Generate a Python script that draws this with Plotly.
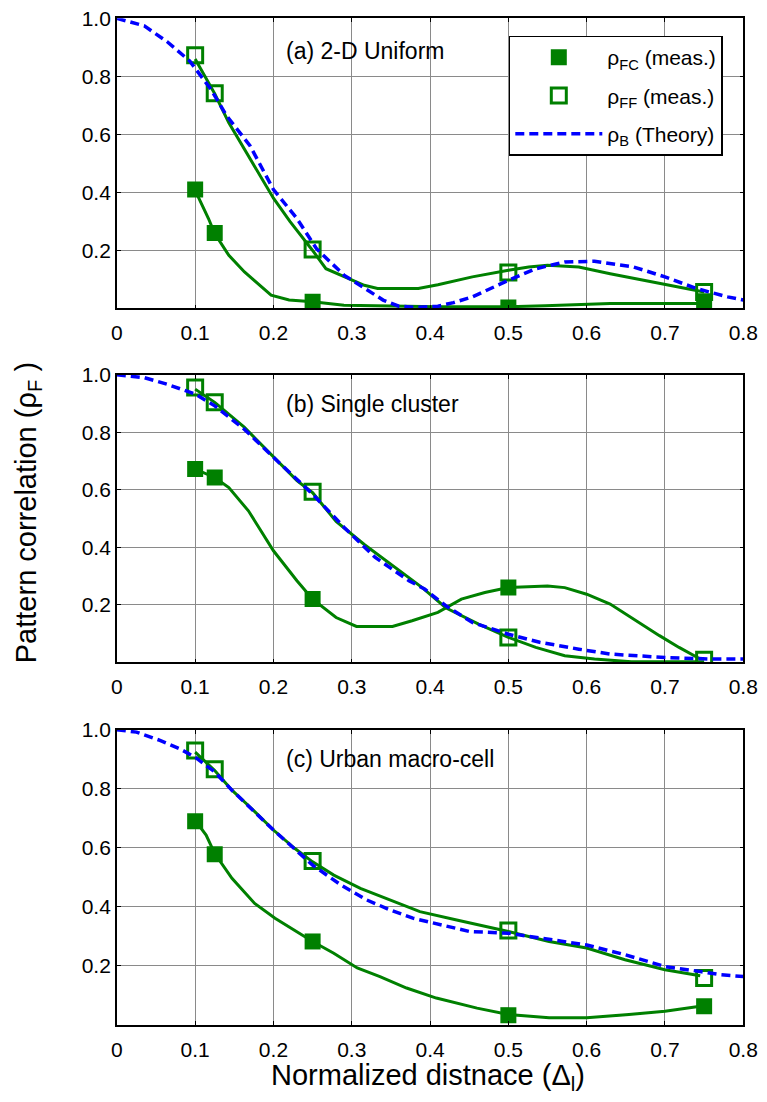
import plotly.graph_objects as go

# ---------------- data ----------------
mx = [0.1, 0.125, 0.25, 0.5, 0.75]

# Panel (a) 2-D Uniform
a_ff_x = [0.1, 0.125, 0.143, 0.163, 0.18, 0.2, 0.221, 0.25, 0.267, 0.3, 0.316, 0.333, 0.36,
          0.385, 0.41, 0.43, 0.454, 0.5, 0.526, 0.55, 0.59, 0.63, 0.675, 0.716, 0.75]
a_ff_y = [0.86, 0.74, 0.64, 0.55, 0.47, 0.38, 0.30, 0.20, 0.137, 0.097, 0.08, 0.069, 0.069,
          0.069, 0.082, 0.095, 0.109, 0.132, 0.143, 0.149, 0.143, 0.12, 0.097, 0.074, 0.057]
a_th_x = [0, 0.035, 0.064, 0.093, 0.12, 0.14, 0.17, 0.2, 0.23, 0.255, 0.29, 0.316, 0.34, 0.36,
          0.38, 0.41, 0.43, 0.454, 0.5, 0.535, 0.572, 0.61, 0.66, 0.7, 0.74, 0.78, 0.8]
a_th_y = [1.0, 0.974, 0.92, 0.853, 0.756, 0.665, 0.561, 0.41, 0.31, 0.206, 0.115, 0.069, 0.029,
          0.008, 0.004, 0.008, 0.02, 0.04, 0.097, 0.137, 0.16, 0.163, 0.143, 0.109, 0.069, 0.04, 0.029]
a_fc_x = [0.1, 0.117, 0.125, 0.143, 0.163, 0.197, 0.22, 0.25, 0.29, 0.35, 0.41, 0.5, 0.547, 0.63, 0.75]
a_fc_y = [0.407, 0.31, 0.258, 0.183, 0.126, 0.046, 0.029, 0.023, 0.011, 0.008, 0.006, 0.006,
          0.009, 0.017, 0.017]
a_fc_m = [0.41, 0.26, 0.023, 0.003, 0.025]
a_ff_m = [0.873, 0.742, 0.203, 0.124, 0.057]

# Panel (b) Single cluster
b_ff_x = [0.1, 0.125, 0.163, 0.2, 0.23, 0.25, 0.28, 0.316, 0.355, 0.39, 0.42, 0.462, 0.5,
          0.535, 0.572, 0.61, 0.657, 0.75]
b_ff_y = [0.95, 0.904, 0.817, 0.713, 0.632, 0.59, 0.49, 0.41, 0.33, 0.26, 0.19, 0.133, 0.087,
          0.052, 0.023, 0.012, 0.002, 0.002]
b_th_x = [0, 0.035, 0.064, 0.1, 0.125, 0.163, 0.2, 0.25, 0.29, 0.33, 0.373, 0.393, 0.42, 0.454,
          0.5, 0.54, 0.59, 0.63, 0.7, 0.757, 0.8]
b_th_y = [1.0, 0.99, 0.967, 0.933, 0.892, 0.81, 0.713, 0.585, 0.47, 0.365, 0.284, 0.255, 0.197,
          0.139, 0.098, 0.07, 0.046, 0.029, 0.017, 0.012, 0.012]
b_fc_x = [0.1, 0.125, 0.143, 0.168, 0.2, 0.23, 0.25, 0.28, 0.306, 0.352, 0.377, 0.41, 0.44,
          0.47, 0.5, 0.55, 0.572, 0.6, 0.63, 0.663, 0.693, 0.718, 0.745]
b_fc_y = [0.672, 0.643, 0.608, 0.527, 0.388, 0.284, 0.22, 0.156, 0.125, 0.125, 0.145, 0.174,
          0.22, 0.243, 0.26, 0.266, 0.26, 0.237, 0.203, 0.145, 0.093, 0.052, 0.012]
b_fc_m = [0.672, 0.643, 0.22, 0.26, None]
b_ff_m = [0.956, 0.904, 0.593, 0.087, 0.009]

# Panel (c) Urban macro-cell
c_ff_x = [0.1, 0.125, 0.147, 0.172, 0.2, 0.227, 0.25, 0.277, 0.311, 0.349, 0.387, 0.434, 0.5,
          0.552, 0.6, 0.649, 0.7, 0.745]
c_ff_y = [0.924, 0.862, 0.795, 0.733, 0.66, 0.598, 0.552, 0.507, 0.462, 0.423, 0.383, 0.355,
          0.316, 0.282, 0.26, 0.22, 0.186, 0.166]
c_th_x = [0, 0.025, 0.055, 0.08, 0.1, 0.125, 0.147, 0.2, 0.25, 0.286, 0.319, 0.349, 0.378,
          0.408, 0.45, 0.5, 0.544, 0.6, 0.649, 0.7, 0.745, 0.772, 0.8]
c_th_y = [1.0, 0.992, 0.964, 0.936, 0.907, 0.857, 0.795, 0.66, 0.541, 0.474, 0.423, 0.389,
          0.361, 0.342, 0.316, 0.31, 0.293, 0.27, 0.237, 0.197, 0.18, 0.169, 0.163]
c_fc_x = [0.1, 0.114, 0.125, 0.147, 0.176, 0.202, 0.25, 0.277, 0.307, 0.336, 0.37, 0.408,
          0.46, 0.5, 0.552, 0.6, 0.654, 0.7, 0.745]
c_fc_y = [0.693, 0.643, 0.58, 0.496, 0.411, 0.361, 0.282, 0.242, 0.192, 0.163, 0.124, 0.09,
          0.056, 0.034, 0.023, 0.023, 0.034, 0.045, 0.062]
c_fc_m = [0.69, 0.578, 0.282, 0.032, 0.062]
c_ff_m = [0.93, 0.866, 0.555, 0.319, 0.158]

panel_labels = ["(a) 2-D Uniform", "(b) Single cluster", "(c) Urban macro-cell"]
x_ticks = [0, 0.1, 0.2, 0.3, 0.4, 0.5, 0.6, 0.7, 0.8]
x_ticktext = ["0", "0.1", "0.2", "0.3", "0.4", "0.5", "0.6", "0.7", "0.8"]
y_ticks = [0.2, 0.4, 0.6, 0.8, 1.0]
y_ticktext = ["0.2", "0.4", "0.6", "0.8", "1.0"]

# ---------------- style ----------------
GREEN = "#008000"
BLUE = "#0000FF"
FONT = "Liberation Sans, Arial, sans-serif"

panels = [
    (a_fc_x, a_fc_y, a_fc_m, a_ff_x, a_ff_y, a_ff_m, a_th_x, a_th_y),
    (b_fc_x, b_fc_y, b_fc_m, b_ff_x, b_ff_y, b_ff_m, b_th_x, b_th_y),
    (c_fc_x, c_fc_y, c_fc_m, c_ff_x, c_ff_y, c_ff_m, c_th_x, c_th_y),
]
ydomains = [[0.7280, 0.9942], [0.4033, 0.6672], [0.0710, 0.3415]]
xdomain = [0.1486, 0.9883]

fig = go.Figure()
for i, (fcx, fcy, fcm, ffx, ffy, ffm, thx, thy) in enumerate(panels):
    xa = "x" if i == 0 else f"x{i+1}"
    ya = "y" if i == 0 else f"y{i+1}"
    show = i == 0
    fig.add_trace(go.Scatter(x=fcx, y=fcy, mode="lines", line=dict(color=GREEN, width=3),
                             showlegend=False, xaxis=xa, yaxis=ya, hoverinfo="skip"))
    fig.add_trace(go.Scatter(x=ffx, y=ffy, mode="lines", line=dict(color=GREEN, width=3),
                             showlegend=False, xaxis=xa, yaxis=ya, hoverinfo="skip"))
    fig.add_trace(go.Scatter(x=mx, y=fcm, mode="markers",
                             marker=dict(symbol="square", size=16, color=GREEN,
                                         line=dict(width=0)),
                             name="ρ<sub>FC</sub> (meas.)", legendgroup="fc",
                             showlegend=show, xaxis=xa, yaxis=ya))
    fig.add_trace(go.Scatter(x=mx, y=ffm, mode="markers",
                             marker=dict(symbol="square-open", size=15, color=GREEN,
                                         line=dict(width=3, color=GREEN)),
                             name="ρ<sub>FF</sub> (meas.)", legendgroup="ff",
                             showlegend=show, xaxis=xa, yaxis=ya))
    fig.add_trace(go.Scatter(x=thx, y=thy, mode="lines",
                             line=dict(color=BLUE, width=3.5, dash="9px,5px"),
                             name="ρ<sub>B</sub> (Theory)", legendgroup="th",
                             showlegend=show, xaxis=xa, yaxis=ya))

axis_common = dict(showline=True, linecolor="black", linewidth=1.5, mirror="ticks",
                   ticks="inside", ticklen=4, tickcolor="black", tickwidth=1.2,
                   showgrid=True, gridcolor="#8a8a8a", gridwidth=1, zeroline=False,
                   tickfont=dict(family=FONT, size=21, color="black"))

layout = dict(width=767, height=1102, margin=dict(l=0, r=0, t=0, b=0),
              paper_bgcolor="white", plot_bgcolor="white",
              font=dict(family=FONT, color="black"))
for i in range(3):
    xk = "xaxis" if i == 0 else f"xaxis{i+1}"
    yk = "yaxis" if i == 0 else f"yaxis{i+1}"
    ya = "y" if i == 0 else f"y{i+1}"
    xa = "x" if i == 0 else f"x{i+1}"
    layout[xk] = dict(axis_common, domain=xdomain, range=[0, 0.8], anchor=ya,
                      tickvals=x_ticks, ticktext=x_ticktext, ticklabelstandoff=5,
                      ticklabeloverflow="allow")
    layout[yk] = dict(axis_common, domain=ydomains[i], range=[0, 1.0], anchor=xa,
                      tickvals=y_ticks, ticktext=y_ticktext, ticklabelstandoff=0,
                      ticklabeloverflow="allow")
fig.update_layout(**layout)

ann = []
label_y = [0.889, 0.898, 0.9]
for i, txt in enumerate(panel_labels):
    xa = "x" if i == 0 else f"x{i+1}"
    ya = "y" if i == 0 else f"y{i+1}"
    ann.append(dict(x=0.213, y=label_y[i], xref=xa, yref=ya, text=txt, showarrow=False,
                    xanchor="left", yanchor="middle",
                    font=dict(family=FONT, size=23, color="black")))
ann.append(dict(x=0.0297, y=0.5403, xref="paper", yref="paper",
                text="Pattern correlation (ρ<sub>F</sub> )", textangle=-90,
                showarrow=False, xanchor="center", yanchor="middle",
                font=dict(family=FONT, size=29, color="black")))
ann.append(dict(x=0.566, y=0.0225, xref="paper", yref="paper",
                text="Normalized distnace (Δ<sub>l</sub>)", showarrow=False,
                xanchor="center", yanchor="middle",
                font=dict(family=FONT, size=29, color="black")))
fig.update_layout(annotations=ann)

fig.update_layout(legend=dict(x=0.674, y=0.9784, xanchor="left", yanchor="top",
                              bgcolor="white", bordercolor="black", borderwidth=1.5,
                              font=dict(family=FONT, size=21, color="black"),
                              itemwidth=87, tracegroupgap=8, traceorder="grouped"))

fig.write_html("out.html")
